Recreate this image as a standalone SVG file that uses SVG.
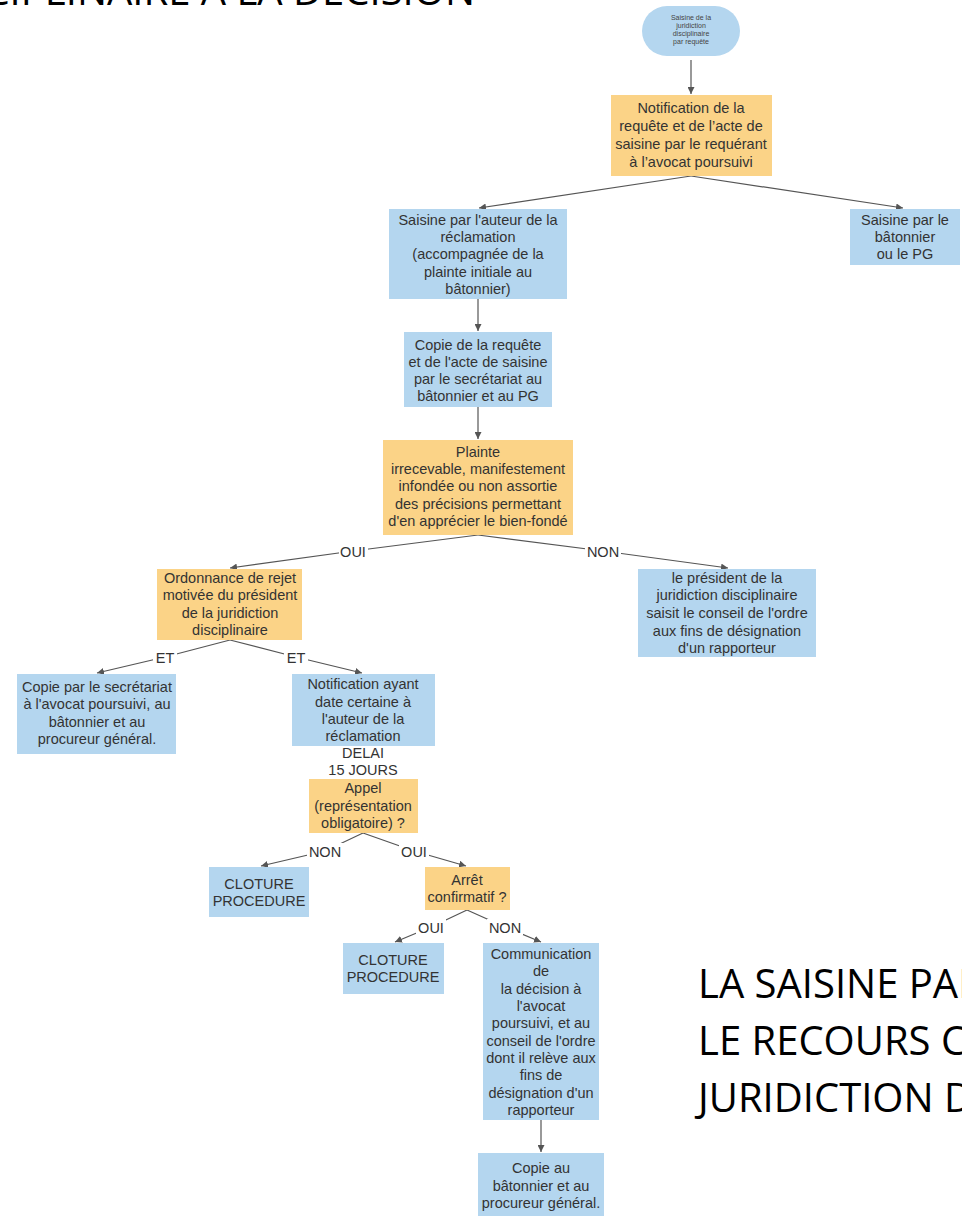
<svg xmlns="http://www.w3.org/2000/svg" width="962" height="1218" viewBox="0 0 962 1218">
  <defs>
    <marker id="arrow" viewBox="0 0 10 10" refX="10" refY="5" markerWidth="7" markerHeight="7" markerUnits="userSpaceOnUse" orient="auto">
      <path d="M0,0 L10,5 L0,10 z" fill="#555"/>
    </marker>
    <style>
      .blue { fill: #b4d6ef; }
      .orange { fill: #fbd387; }
      .t { font-family: "Liberation Sans", Arial, sans-serif; font-size: 14.5px; fill: #333; text-anchor: middle; }
      .tiny { font-family: "Liberation Sans", Arial, sans-serif; font-size: 7px; fill: #444; text-anchor: middle; }
      .lbl { font-family: "Liberation Sans", Arial, sans-serif; font-size: 14.5px; fill: #333; text-anchor: middle; }
      .big { font-family: "Open Sans", "Liberation Sans", sans-serif; font-size: 40px; fill: #000; }
      .edge { fill: none; stroke: #555; stroke-width: 1.2; }
    </style>
  </defs>

  <rect width="962" height="1218" fill="#fff"/>

  <!-- headings -->
  <text class="big" x="475" y="5" text-anchor="end">DISCIPLINAIRE A LA DECISION</text>
  <text class="big" x="698" y="998">LA SAISINE PAR</text>
  <text class="big" x="698" y="1055">LE RECOURS CONTRE</text>
  <text class="big" x="698" y="1112">JURIDICTION DISCIPLINAIRE</text>

  <!-- connectors -->
  <g id="connectors">
    <path class="edge" d="M691,60 L691,94" marker-end="url(#arrow)"/>
    <path class="edge" d="M691,176 L479,208" marker-end="url(#arrow)"/>
    <path class="edge" d="M691,176 L903,208" marker-end="url(#arrow)"/>
    <path class="edge" d="M478,299 L478,331" marker-end="url(#arrow)"/>
    <path class="edge" d="M478,407 L478,439" marker-end="url(#arrow)"/>
    <path class="edge" d="M478,535 L353,551 L230,568" marker-end="url(#arrow)"/>
    <path class="edge" d="M478,535 L603,551 L728,568" marker-end="url(#arrow)"/>
    <path class="edge" d="M230,640 L165,657 L97,673" marker-end="url(#arrow)"/>
    <path class="edge" d="M230,640 L296,657 L362,673" marker-end="url(#arrow)"/>
    <path class="edge" d="M363,746 L363,778" marker-end="url(#arrow)"/>
    <path class="edge" d="M363,833 L325,851 L261,866" marker-end="url(#arrow)"/>
    <path class="edge" d="M363,833 L414,851 L466,866" marker-end="url(#arrow)"/>
    <path class="edge" d="M467,910 L431,927 L395,942" marker-end="url(#arrow)"/>
    <path class="edge" d="M467,910 L505,927 L541,942" marker-end="url(#arrow)"/>
    <path class="edge" d="M541,1120 L541,1152" marker-end="url(#arrow)"/>

    <!-- edge labels -->
    <g id="edge-labels">
      <rect x="339" y="543" width="29" height="16" fill="#fff"/>
      <text class="lbl" x="353" y="557">OUI</text>
      <rect x="585" y="543" width="36" height="16" fill="#fff"/>
      <text class="lbl" x="603" y="557">NON</text>
      <rect x="153" y="649" width="24" height="16" fill="#fff"/>
      <text class="lbl" x="165" y="663">ET</text>
      <rect x="284" y="649" width="24" height="16" fill="#fff"/>
      <text class="lbl" x="296" y="663">ET</text>
      <rect x="324" y="746" width="78" height="32" fill="#fff"/>
      <text class="lbl" x="363" y="758">DELAI</text>
      <text class="lbl" x="363" y="775">15 JOURS</text>
      <rect x="307" y="843" width="36" height="16" fill="#fff"/>
      <text class="lbl" x="325" y="857">NON</text>
      <rect x="399" y="843" width="30" height="16" fill="#fff"/>
      <text class="lbl" x="414" y="857">OUI</text>
      <rect x="416" y="919" width="30" height="16" fill="#fff"/>
      <text class="lbl" x="431" y="933">OUI</text>
      <rect x="487" y="919" width="36" height="16" fill="#fff"/>
      <text class="lbl" x="505" y="933">NON</text>
    </g>
  </g>

  <!-- nodes -->
  <g id="start">
    <rect class="blue" x="642" y="6" width="98" height="50" rx="25"/>
    <text class="tiny" x="691" y="20">Saisine de la</text>
    <text class="tiny" x="691" y="28">juridiction</text>
    <text class="tiny" x="691" y="36">disciplinaire</text>
    <text class="tiny" x="691" y="44">par requête</text>
  </g>

  <g id="notification">
    <rect class="orange" x="611" y="95" width="161" height="81"/>
    <text class="t" x="691" y="113">Notification de la</text>
    <text class="t" x="691" y="131">requête et de l’acte de</text>
    <text class="t" x="691" y="149">saisine par le requérant</text>
    <text class="t" x="691" y="167">à l’avocat poursuivi</text>
  </g>

  <g id="saisine-auteur">
    <rect class="blue" x="389" y="209" width="178" height="90"/>
    <text class="t" x="478" y="225">Saisine par l'auteur de la</text>
    <text class="t" x="478" y="242">réclamation</text>
    <text class="t" x="478" y="259">(accompagnée de la</text>
    <text class="t" x="478" y="277">plainte initiale au</text>
    <text class="t" x="478" y="294">bâtonnier)</text>
  </g>

  <g id="saisine-batonnier">
    <rect class="blue" x="850" y="209" width="110" height="56"/>
    <text class="t" x="905" y="225">Saisine par le</text>
    <text class="t" x="905" y="242">bâtonnier</text>
    <text class="t" x="905" y="259">ou le PG</text>
  </g>

  <g id="copie-requete">
    <rect class="blue" x="404" y="332" width="148" height="75"/>
    <text class="t" x="478" y="350">Copie de la requête</text>
    <text class="t" x="478" y="367">et de l'acte de saisine</text>
    <text class="t" x="478" y="384">par le secrétariat au</text>
    <text class="t" x="478" y="401">bâtonnier et au PG</text>
  </g>

  <g id="plainte">
    <rect class="orange" x="383" y="440" width="190" height="95"/>
    <text class="t" x="478" y="457">Plainte</text>
    <text class="t" x="478" y="474">irrecevable, manifestement</text>
    <text class="t" x="478" y="491">infondée ou non assortie</text>
    <text class="t" x="478" y="509">des précisions permettant</text>
    <text class="t" x="478" y="526">d'en apprécier le bien-fondé</text>
  </g>

  <g id="ordonnance">
    <rect class="orange" x="157" y="569" width="145" height="71"/>
    <text class="t" x="230" y="583">Ordonnance de rejet</text>
    <text class="t" x="230" y="600">motivée du président</text>
    <text class="t" x="230" y="618">de la juridiction</text>
    <text class="t" x="230" y="635">disciplinaire</text>
  </g>

  <g id="president">
    <rect class="blue" x="638" y="569" width="178" height="88"/>
    <text class="t" x="727" y="583">le président de la</text>
    <text class="t" x="727" y="600">juridiction disciplinaire</text>
    <text class="t" x="727" y="618">saisit le conseil de l'ordre</text>
    <text class="t" x="727" y="636">aux fins de désignation</text>
    <text class="t" x="727" y="653">d'un rapporteur</text>
  </g>

  <g id="copie-secretariat">
    <rect class="blue" x="17" y="674" width="159" height="80"/>
    <text class="t" x="97" y="692">Copie par le secrétariat</text>
    <text class="t" x="97" y="709">à l'avocat poursuivi, au</text>
    <text class="t" x="97" y="727">bâtonnier et au</text>
    <text class="t" x="97" y="744">procureur général.</text>
  </g>

  <g id="notification-auteur">
    <rect class="blue" x="292" y="674" width="143" height="72"/>
    <text class="t" x="363" y="689">Notification ayant</text>
    <text class="t" x="363" y="707">date certaine à</text>
    <text class="t" x="363" y="724">l'auteur de la</text>
    <text class="t" x="363" y="741">réclamation</text>
  </g>

  <g id="appel">
    <rect class="orange" x="309" y="779" width="109" height="54"/>
    <text class="t" x="363" y="793">Appel</text>
    <text class="t" x="363" y="811">(représentation</text>
    <text class="t" x="363" y="828">obligatoire) ?</text>
  </g>

  <g id="cloture-1">
    <rect class="blue" x="209" y="867" width="100" height="50"/>
    <text class="t" x="259" y="889">CLOTURE</text>
    <text class="t" x="259" y="906">PROCEDURE</text>
  </g>

  <g id="arret">
    <rect class="orange" x="425" y="867" width="85" height="43"/>
    <text class="t" x="467" y="885">Arrêt</text>
    <text class="t" x="467" y="902">confirmatif ?</text>
  </g>

  <g id="cloture-2">
    <rect class="blue" x="343" y="943" width="101" height="51"/>
    <text class="t" x="393" y="965">CLOTURE</text>
    <text class="t" x="393" y="982">PROCEDURE</text>
  </g>

  <g id="communication">
    <rect class="blue" x="483" y="943" width="116" height="177"/>
    <text class="t" x="541" y="959">Communication</text>
    <text class="t" x="541" y="976">de</text>
    <text class="t" x="541" y="994">la décision à</text>
    <text class="t" x="541" y="1011">l'avocat</text>
    <text class="t" x="541" y="1028">poursuivi, et au</text>
    <text class="t" x="541" y="1046">conseil de l'ordre</text>
    <text class="t" x="541" y="1063">dont il relève aux</text>
    <text class="t" x="541" y="1080">fins de</text>
    <text class="t" x="541" y="1098">désignation d'un</text>
    <text class="t" x="541" y="1115">rapporteur</text>
  </g>

  <g id="copie-final">
    <rect class="blue" x="478" y="1153" width="126" height="63"/>
    <text class="t" x="541" y="1173">Copie au</text>
    <text class="t" x="541" y="1191">bâtonnier et au</text>
    <text class="t" x="541" y="1208">procureur général.</text>
  </g>
</svg>
